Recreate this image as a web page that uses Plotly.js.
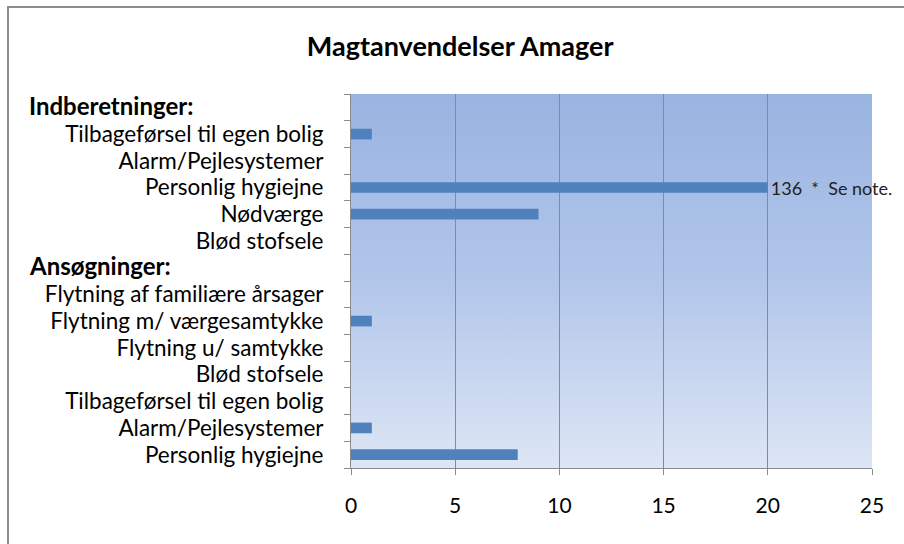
<!DOCTYPE html>
<html>
<head>
<meta charset="utf-8">
<script src="https://cdn.plot.ly/plotly-3.0.1.min.js"></script>
<style>
  html, body { margin: 0; padding: 0; background: #ffffff; }
  #wrap { position: relative; width: 904px; height: 544px; overflow: hidden; }
  #chart { position: absolute; left: 0; top: 0; width: 904px; height: 544px; }
  #frame { position: absolute; left: 7px; top: 6px; width: 960px; height: 600px;
           border-top: 2px solid #8c8c8c; border-left: 2px solid #8c8c8c; pointer-events: none; }
</style>
</head>
<body>
<div id="wrap">
  <div id="chart"></div>
  <div id="frame"></div>
</div>
<script>
// ---- data (top-to-bottom order as in the chart) ----
const chartTitle = "Magtanvendelser Amager";
const groupTitles = ["Indberetninger:", "Ansøgninger:"];

const indberetningerLabels = [
  "Tilbageførsel til egen bolig",
  "Alarm/Pejlesystemer",
  "Personlig hygiejne",
  "Nødværge",
  "Blød stofsele"
];
const indberetningerValues = [1, 0, 20, 9, 0];      // bar lengths as drawn
const indberetningerText   = ["", "", "136  *  Se note.", "", ""];

const ansoegningerLabels = [
  "Flytning af familiære årsager",
  "Flytning m/ værgesamtykke",
  "Flytning u/ samtykke",
  "Blød stofsele",
  "Tilbageførsel til egen bolig",
  "Alarm/Pejlesystemer",
  "Personlig hygiejne"
];
const ansoegningerValues = [0, 1, 0, 0, 0, 1, 8];
const ansoegningerText   = ["", "", "", "", "", "", ""];

const xTickValues = [0, 5, 10, 15, 20, 25];

// ---- build rows ----
const rowLabels = [], rowValues = [], rowText = [], headerRows = [];
function addGroup(title, labels, values, texts) {
  headerRows.push({ idx: rowLabels.length, title: title });
  rowLabels.push(""); rowValues.push(null); rowText.push("");
  labels.forEach((l, i) => { rowLabels.push(l); rowValues.push(values[i]); rowText.push(texts[i]); });
}
addGroup(groupTitles[0], indberetningerLabels, indberetningerValues, indberetningerText);
addGroup(groupTitles[1], ansoegningerLabels, ansoegningerValues, ansoegningerText);

const n = rowLabels.length;
const rowPos = rowLabels.map((_, i) => i);
const boundaryPos = [];
for (let i = 0; i <= n; i++) boundaryPos.push(i - 0.5);

const FONT = "Lato, 'Open Sans', sans-serif";
const gridCol = "#8a8a8a";

const gradSvg = '<svg xmlns="http://www.w3.org/2000/svg" width="100" height="100" preserveAspectRatio="none">' +
  '<defs><linearGradient id="g" x1="0" y1="0" x2="0" y2="1">' +
  '<stop offset="0" stop-color="#99b4e1"/><stop offset="0.5" stop-color="#b2c6ea"/>' +
  '<stop offset="1" stop-color="#dde6f5"/></linearGradient></defs>' +
  '<rect width="100" height="100" fill="url(#g)"/></svg>';
const gradUri = "data:image/svg+xml;charset=utf-8," + encodeURIComponent(gradSvg);

const traces = [
  {
    type: "bar",
    orientation: "h",
    x: rowValues,
    y: rowPos,
    text: rowText,
    textposition: "outside",
    constraintext: "none",
    cliponaxis: false,
    textfont: { family: FONT, size: 18, color: "#222222" },
    marker: { color: "#4f81bd" },
    hoverinfo: "skip",
    showlegend: false
  },
  {
    type: "scatter", mode: "markers", x: [], y: [], yaxis: "y2",
    hoverinfo: "skip", showlegend: false
  }
];

const annotations = headerRows.map(h => ({
  xref: "paper", yref: "y",
  x: -0.622, y: h.idx - 0.08,
  xanchor: "left", yanchor: "middle",
  text: "<b>" + h.title + "</b>",
  showarrow: false,
  font: { family: FONT, size: 24, color: "#000000" }
}));

const layout = {
  width: 904, height: 544,
  margin: { l: 351, r: 32, t: 94, b: 76, pad: 0 },
  paper_bgcolor: "rgba(0,0,0,0)",
  plot_bgcolor: "rgba(0,0,0,0)",
  bargap: 0.6,
  title: {
    text: "<b>" + chartTitle + "</b>",
    x: 0.509, xanchor: "center", xref: "container",
    y: 0.915, yanchor: "middle", yref: "container",
    font: { family: FONT, size: 27, color: "#000000" }
  },
  xaxis: {
    range: [0, 25],
    tickvals: xTickValues,
    ticktext: xTickValues.map(String),
    ticks: "outside", ticklen: 6, tickcolor: gridCol, tickwidth: 1,
    showline: true, linecolor: gridCol, linewidth: 1,
    showgrid: true, gridcolor: gridCol, gridwidth: 1,
    zeroline: false,
    ticklabelstandoff: 13,
    tickfont: { family: FONT, size: 21, color: "#000000" },
    fixedrange: true
  },
  yaxis: {
    range: [n - 0.5, -0.5],
    tickvals: rowPos,
    ticktext: rowLabels,
    ticks: "", showgrid: false, zeroline: false,
    showline: true, linecolor: gridCol, linewidth: 1,
    ticklabelstandoff: 22,
    tickfont: { family: FONT, size: 22.5, color: "#000000" },
    fixedrange: true
  },
  yaxis2: {
    overlaying: "y", side: "left", anchor: "x",
    range: [n - 0.5, -0.5],
    tickvals: boundaryPos,
    ticks: "outside", ticklen: 6, tickcolor: gridCol, tickwidth: 1,
    showticklabels: false, showgrid: false, zeroline: false, showline: false,
    fixedrange: true
  },
  images: [{
    source: gradUri, xref: "paper", yref: "paper",
    x: 0, y: 1, sizex: 1, sizey: 1,
    xanchor: "left", yanchor: "top",
    sizing: "stretch", layer: "below"
  }],
  annotations: annotations
};

Plotly.newPlot("chart", traces, layout, { staticPlot: true, displayModeBar: false });
</script>
</body>
</html>
